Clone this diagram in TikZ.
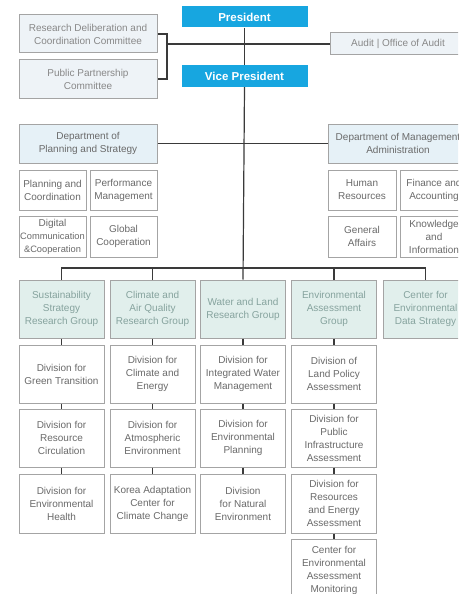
\documentclass[tikz,border=0pt]{standalone}
\usepackage{fontspec}
\setmainfont{Liberation Sans}
\definecolor{presblue}{HTML}{17A6E0}
\definecolor{bord}{HTML}{A4A4A4}
\definecolor{commfill}{HTML}{EEF3F7}
\definecolor{deptfill}{HTML}{E6F1F7}
\definecolor{grpfill}{HTML}{E1EFEC}
\definecolor{grptext}{HTML}{86A39E}
\definecolor{txt}{HTML}{6A6A6A}
\definecolor{conncol}{HTML}{3A3A3A}
\tikzset{
  base/.style={draw=bord, line width=1pt, align=center, inner sep=0pt,
    text=txt, font=\fontsize{10}{13}\selectfont},
  pres/.style={fill=presblue, text=white, align=center, inner sep=0pt,
    font=\bfseries\fontsize{11.5}{13}\selectfont, minimum width=126pt, minimum height=21pt},
  comm/.style={base, fill=commfill, text=txt!80, minimum width=138pt, minimum height=38pt},
  audit/.style={base, fill=commfill, text=txt!80, minimum width=136pt, minimum height=22pt},
  dept/.style={base, fill=deptfill, minimum height=39pt},
  sub/.style={base, fill=white, minimum width=67pt},
  grp/.style={base, fill=grpfill, text=grptext, minimum width=85pt, minimum height=58pt},
  divbox/.style={base, fill=white, minimum width=85pt, minimum height=58pt},
  conn/.style={draw=conncol, line width=1.2pt},
  stub/.style={draw=conncol, line width=1.6pt},
}
\begin{document}
\begin{tikzpicture}[x=1pt, y=-1pt]
\useasboundingbox (0,0) rectangle (458,594);
\fill[white] (0,0) rectangle (458,594);
\clip (0,0) rectangle (458,594);

% top
\node[pres] (pres) at (244.5,17) {President};
\node[pres, minimum height=22pt] (vp) at (244.5,76) {Vice President};
\node[comm] (com1) at (88,34) {Research Deliberation and\\Coordination Committee};
\node[comm] (com2) at (88,79) {Public Partnership\\Committee};
\node[audit] (aud) at (398,44) {Audit | Office of Audit};
\coordinate (brk) at (167,34);

% departments
\node[dept, minimum width=138pt] (dl) at (88,143.5) {Department of\\Planning and Strategy};
\node[dept, minimum width=140pt] (dr) at (398,143.5) {Department of Management\\Administration};
\node[sub, minimum height=40pt] (s1) at (52.5,190) {Planning and\\Coordination};
\node[sub, minimum height=40pt] (s2) at (123.5,190) {Performance\\Management};
\node[sub, minimum height=41pt] (s3) at (52.5,236.5) {Digital\\{\fontsize{9.3}{13}\selectfont Communication}\\{\fontsize{9.3}{13}\selectfont \&Cooperation}};
\node[sub, minimum height=41pt] (s4) at (123.5,236.5) {Global\\Cooperation};
\node[sub, minimum width=68pt, minimum height=40pt] (s5) at (362,190) {Human\\Resources};
\node[sub, minimum width=68pt, minimum height=40pt] (s6) at (434,190) {Finance and\\Accounting};
\node[sub, minimum width=68pt, minimum height=41pt] (s7) at (362,236.5) {General\\Affairs};
\node[sub, minimum width=68pt, minimum height=41pt] (s8) at (434,236.5) {Knowledge\\and\\Information};

% groups
\node[grp] (g1) at (61.5,309) {Sustainability\\Strategy\\Research Group};
\node[grp] (g2) at (152.5,309) {Climate and\\Air Quality\\Research Group};
\node[grp] (g3) at (243,309) {Water and Land\\Research Group};
\node[grp] (g4) at (334,309) {Environmental\\Assessment\\Group};
\node[grp] (g5) at (425.5,309) {Center for\\Environmental\\Data Strategy};
\coordinate (bus) at (243,268);

% divisions
\node[divbox] (d11) at (61.5,374) {Division for\\Green Transition};
\node[divbox] (d12) at (61.5,438) {Division for\\Resource\\Circulation};
\node[divbox, minimum height=59pt] (d13) at (61.5,503.5) {Division for\\Environmental\\Health};
\node[divbox] (d21) at (152.5,374) {Division for\\Climate and\\Energy};
\node[divbox] (d22) at (152.5,438) {Division for\\Atmospheric\\Environment};
\node[divbox, minimum height=59pt] (d23) at (152.5,503.5) {Korea Adaptation\\Center for\\Climate Change};
\node[divbox] (d31) at (243,374) {Division for\\Integrated Water\\Management};
\node[divbox] (d32) at (243,438) {Division for\\Environmental\\Planning};
\node[divbox, minimum height=59pt] (d33) at (243,503.5) {Division\\for Natural\\Environment};
\node[divbox] (d41) at (334,374) {Division of\\Land Policy\\Assessment};
\node[divbox] (d42) at (334,438) {Division for\\Public\\Infrastructure\\Assessment};
\node[divbox, minimum height=59pt] (d43) at (334,503.5) {Division for\\Resources\\and Energy\\Assessment};
\node[divbox, minimum height=62pt] (d44) at (334,570) {Center for\\Environmental\\Assessment\\Monitoring};

% connectors
\draw[conn] (pres.south) -- (vp.north);
\draw[conn] (vp.south) -- (g3.north);
\draw[conn] (com1.east) -- (brk) |- (com2.east);
\draw[conn] (brk |- aud.west) -- (aud.west);
\draw[conn] (dl.east) -- (dr.west);
\draw[conn] (g1.north) -- (g1.north |- bus) -- (g5.north |- bus) -- (g5.north);
\draw[conn] (g2.north |- bus) -- (g2.north);
\draw[conn] (g4.north |- bus) -- (g4.north);
\draw[stub] (g1.south) -- (d11.north);
\draw[stub] (d11.south) -- (d12.north);
\draw[stub] (d12.south) -- (d13.north);
\draw[stub] (g2.south) -- (d21.north);
\draw[stub] (d21.south) -- (d22.north);
\draw[stub] (d22.south) -- (d23.north);
\draw[stub] (g3.south) -- (d31.north);
\draw[stub] (d31.south) -- (d32.north);
\draw[stub] (d32.south) -- (d33.north);
\draw[stub] (g4.south) -- (d41.north);
\draw[stub] (d41.south) -- (d42.north);
\draw[stub] (d42.south) -- (d43.north);
\draw[stub] (d43.south) -- (d44.north);
\end{tikzpicture}
\end{document}
